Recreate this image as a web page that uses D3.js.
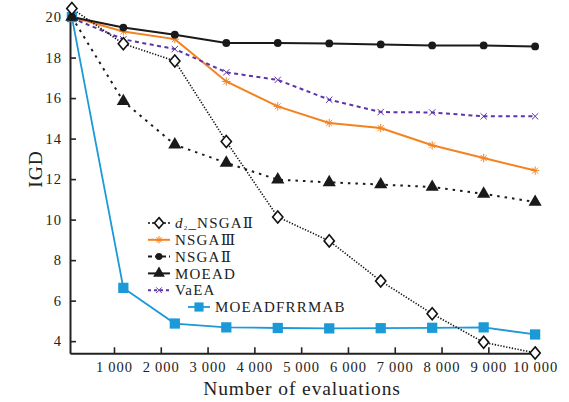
<!DOCTYPE html>
<html>
<head>
<meta charset="utf-8">
<script src="https://cdn.jsdelivr.net/npm/d3@7"></script>
<style>
  body { margin: 0; background: #fff; }
  svg { display: block; font-family: 'Liberation Serif', 'DejaVu Serif', serif; }
</style>
</head>
<body>
<div id="chart"></div>
<script>
// data
const evals = [100, 1200, 2300, 3400, 4500, 5600, 6700, 7800, 8900, 10000];
const d2Nsga2 = [20.42, 18.68, 17.83, 13.86, 10.13, 8.95, 6.97, 5.35, 3.94, 3.42];
const nsga3 = [20.0, 19.29, 18.91, 16.82, 15.59, 14.77, 14.52, 13.67, 13.04, 12.42];
const nsga2 = [20.0, 19.48, 19.13, 18.72, 18.72, 18.7, 18.65, 18.6, 18.6, 18.55];
const moead = [20.0, 15.84, 13.7, 12.8, 11.97, 11.84, 11.73, 11.61, 11.27, 10.87];
const vaea = [19.95, 18.9, 18.42, 17.27, 16.9, 15.92, 15.31, 15.29, 15.1, 15.1];
const frrmab = [20.0, 6.63, 4.87, 4.68, 4.65, 4.63, 4.64, 4.66, 4.68, 4.33];

const xTicks = [1000, 2000, 3000, 4000, 5000, 6000, 7000, 8000, 9000, 10000];
const yTicks = [4, 6, 8, 10, 12, 14, 16, 18, 20];

const width = 569;
const height = 402;

const svg = d3
  .select('#chart')
  .append('svg')
  .attr('width', width)
  .attr('height', height);

const x = d3.scaleLinear().domain([60, 10040]).range([70, 537]);
const y = d3.scaleLinear().domain([3.4, 20.2]).range([353.3, 13]);

const fmt = (d) => d3.format(',')(d).replace(',', '\u2009');

// diamond a bit wider than d3's own
const diamond = {
  draw(ctx, size) {
    const h = Math.sqrt(size) * 0.72;
    const w = h * 0.85;
    ctx.moveTo(0, -h);
    ctx.lineTo(w, 0);
    ctx.lineTo(0, h);
    ctx.lineTo(-w, 0);
    ctx.closePath();
  },
};
const star8 = {
  draw(ctx, size) {
    const r = Math.sqrt(size) / 2;
    for (let i = 0; i < 4; i += 1) {
      const a = (i * Math.PI) / 4;
      ctx.moveTo(-r * Math.cos(a), -r * Math.sin(a));
      ctx.lineTo(r * Math.cos(a), r * Math.sin(a));
    }
  },
};
const cross = {
  draw(ctx, size) {
    const r = Math.sqrt(size) / 2;
    ctx.moveTo(-r, -r);
    ctx.lineTo(r, r);
    ctx.moveTo(-r, r);
    ctx.lineTo(r, -r);
  },
};

const series = [
  {
    name: 'd2', values: d2Nsga2, color: '#111', width: 1.6, dash: '1.3,1.6',
    sym: diamond, size: 70, fill: '#fff', sw: 1.6,
    lgDash: '2,2',
  },
  {
    name: 'NSGA\u2162', values: nsga3, color: '#f58220', width: 2, dash: null,
    sym: star8, size: 70, fill: 'none', sw: 1,
    lgDash: null,
  },
  {
    name: 'NSGA\u2161', values: nsga2, color: '#1a1a1a', width: 2, dash: null,
    sym: d3.symbolCircle, size: 48, fill: '#1a1a1a', sw: 0,
    lgDash: '4,3',
  },
  {
    name: 'MOEAD', values: moead, color: '#1a1a1a', width: 2, dash: '2.5,5',
    sym: d3.symbolTriangle, size: 75, fill: '#1a1a1a', sw: 0,
    lgDash: null,
  },
  {
    name: 'VaEA', values: vaea, color: '#5c35a8', width: 2, dash: '4,3.5',
    sym: cross, size: 40, fill: 'none', sw: 1,
    lgDash: '3,3',
  },
  {
    name: 'MOEADFRRMAB', values: frrmab, color: '#1b9ad7', width: 1.8, dash: null,
    sym: d3.symbolSquare, size: 105, fill: '#1b9ad7', sw: 0,
    lgDash: null,
  },
];

// axes
const xAxis = svg
  .append('g')
  .attr('transform', `translate(0, ${y.range()[0]})`)
  .call(d3.axisBottom(x).tickValues(xTicks).tickSizeInner(-6).tickSizeOuter(0).tickPadding(8).tickFormat(fmt));
const yAxis = svg
  .append('g')
  .attr('transform', `translate(${x.range()[0]}, 0)`)
  .call(d3.axisLeft(y).tickValues(yTicks).tickSizeInner(-6).tickSizeOuter(0).tickPadding(8));

[xAxis, yAxis].forEach((g) => {
  g.select('.domain').attr('stroke', '#222').attr('stroke-width', 2);
  g.selectAll('.tick line').attr('stroke', '#222').attr('stroke-width', 1.6);
  g.selectAll('.tick text')
    .attr('fill', '#222')
    .style('font-family', "'Liberation Serif', serif")
    .style('font-size', '14.5px')
    .style('letter-spacing', '1px');
});

const line = d3
  .line()
  .x((d, i) => x(evals[i]))
  .y((d) => y(d));

const plot = svg.append('g');
const order = [5, 1, 4, 2, 3, 0];
order.forEach((k) => {
  const s = series[k];
  plot
    .append('path')
    .attr('d', line(s.values))
    .attr('fill', 'none')
    .attr('stroke', s.color)
    .attr('stroke-width', s.width)
    .attr('stroke-dasharray', s.dash);
});
order.forEach((k) => {
  const s = series[k];
  plot
    .selectAll(null)
    .data(s.values)
    .join('path')
    .attr('transform', (d, i) => `translate(${x(evals[i])}, ${y(d)})`)
    .attr('d', d3.symbol(s.sym, s.size))
    .attr('fill', s.fill)
    .attr('stroke', s.sw ? s.color : 'none')
    .attr('stroke-width', s.sw);
});

// legend
const legend = svg.append('g');
series.forEach((s, i) => {
  const last = i === series.length - 1;
  const x0 = last ? 188 : 148;
  const cy = 223 + i * 16.8;
  const row = legend.append('g').attr('transform', `translate(${x0}, ${cy})`);
  row.append('line')
    .attr('x1', 0).attr('x2', 22)
    .attr('stroke', s.color)
    .attr('stroke-width', s.width)
    .attr('stroke-dasharray', s.lgDash);
  row.append('path')
    .attr('transform', 'translate(11, 0)')
    .attr('d', d3.symbol(s.sym, s.size * 0.8))
    .attr('fill', s.fill)
    .attr('stroke', s.sw ? s.color : 'none')
    .attr('stroke-width', s.sw);
  const t = row.append('text')
    .attr('x', 27)
    .attr('y', 5.2)
    .attr('fill', '#222')
    .style('font-size', '15px')
    .style('letter-spacing', '1.2px');
  if (s.name === 'd2') {
    t.append('tspan').style('font-style', 'italic').text('d');
    t.append('tspan').attr('dy', 2).style('font-size', '7px').text('2');
    t.append('tspan').attr('dy', -2).text('_NSGA\u2161');
  } else {
    t.text(s.name);
  }
});

// axis names
svg
  .append('text')
  .attr('x', 302)
  .attr('y', 395)
  .attr('text-anchor', 'middle')
  .attr('fill', '#222')
  .style('font-size', '19.5px')
  .style('letter-spacing', '0.9px')
  .text('Number of evaluations');
svg
  .append('text')
  .attr('transform', 'translate(42, 169) rotate(-90)')
  .attr('text-anchor', 'middle')
  .attr('fill', '#222')
  .style('font-size', '19.5px')
  .style('letter-spacing', '0.9px')
  .text('IGD');
</script>
</body>
</html>
